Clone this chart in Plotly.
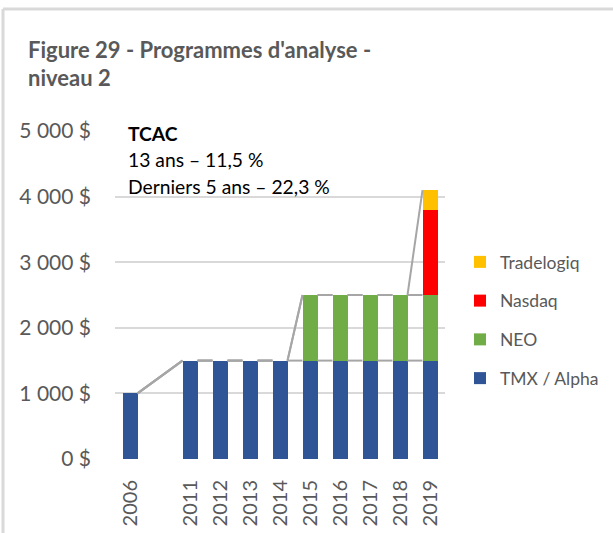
import plotly.graph_objects as go

# ---- data ----
categories = ["2006", " ", "2011", "2012", "2013", "2014", "2015", "2016", "2017", "2018", "2019"]
tmx = [1000, None, 1500, 1500, 1500, 1500, 1500, 1500, 1500, 1500, 1500]
neo = [0, None, 0, 0, 0, 0, 1000, 1000, 1000, 1000, 1000]
nasdaq = [0, None, 0, 0, 0, 0, 0, 0, 0, 0, 1300]
tradelogiq = [0, None, 0, 0, 0, 0, 0, 0, 0, 0, 300]
series_names = ["TMX / Alpha", "NEO", "Nasdaq", "Tradelogiq"]
series_colors = ["#2F5597", "#70AD47", "#FF0000", "#FFC000"]
y_ticks = [0, 1000, 2000, 3000, 4000, 5000]
y_tick_text = ["0 $", "1 000 $", "2 000 $", "3 000 $", "4 000 $", "5 000 $"]
title_lines = ["Figure 29 - Programmes d'analyse -", "niveau 2"]
note_lines = ["<b>TCAC</b>", "13 ans – 11,5 %", "Derniers 5 ans – 22,3 %"]

W, H = 613, 533
L, R, T, B = 115, 445, 131, 459
bar_w = 0.5
FONT = "Lato"
GREY = "#595959"

xs = list(range(len(categories)))
fig = go.Figure()
series = [tmx, neo, nasdaq, tradelogiq]
n = len(series)
for k, (name, col, vals) in enumerate(zip(series_names, series_colors, series)):
    px_ = [x for x, v in zip(xs, vals) if v is not None]
    py_ = [v for v in vals if v is not None]
    fig.add_trace(go.Bar(x=px_, y=py_, name=name, marker=dict(color=col, line=dict(width=0)),
                         width=bar_w, legendgroup=name, legendrank=n - k))

# series lines (cumulative tops) connecting adjacent bars
def cum(upto):
    out = []
    for i in range(len(categories)):
        if tmx[i] is None:
            out.append(None)
            continue
        out.append(sum(s[i] for s in series[:upto + 1]))
    return out

for k in [0, 1, 3]:
    c = cum(k)
    present = [i for i in xs if c[i] is not None]
    lx, ly = [], []
    for a, b in zip(present[:-1], present[1:]):
        lx += [a + bar_w / 2, b - bar_w / 2, None]
        ly += [c[a], c[b], None]
    fig.add_trace(go.Scatter(x=lx, y=ly, mode="lines", line=dict(color="#A6A6A6", width=2),
                             showlegend=False, hoverinfo="skip"))

def px2x(p):
    return (p - L) / (R - L)

def px2y(p):
    return (B - p) / (B - T)

anns = []
anns.append(dict(text="<b>" + title_lines[0] + "</b>", x=px2x(26), y=px2y(50), xref="paper", yref="paper",
                 xanchor="left", yanchor="middle", showarrow=False, font=dict(family=FONT, size=22, color=GREY)))
anns.append(dict(text="<b>" + title_lines[1] + "</b>", x=px2x(26), y=px2y(77), xref="paper", yref="paper",
                 xanchor="left", yanchor="middle", showarrow=False, font=dict(family=FONT, size=22, color=GREY)))
for i, t in enumerate(note_lines):
    anns.append(dict(text=t, x=px2x(126), y=px2y(133 + i * 26.5), xref="paper", yref="paper",
                     xanchor="left", yanchor="middle", showarrow=False, font=dict(family=FONT, size=19.3, color="#000000")))

shapes = [
    dict(type="line", xref="paper", yref="paper", x0=px2x(3), x1=px2x(640), y0=px2y(9), y1=px2y(9),
         line=dict(color="#D9D9D9", width=3)),
    dict(type="line", xref="paper", yref="paper", x0=px2x(3), x1=px2x(3), y0=px2y(9), y1=px2y(560),
         line=dict(color="#D9D9D9", width=3)),
]

fig.update_layout(
    width=W, height=H,
    margin=dict(l=L, r=W - R, t=T, b=H - B, autoexpand=False),
    paper_bgcolor="white", plot_bgcolor="white",
    barmode="stack",
    showlegend=True,
    legend=dict(x=px2x(460), y=px2y(244), xanchor="left", yanchor="top",
                traceorder="grouped", tracegroupgap=13,
                font=dict(family=FONT, size=17.5, color=GREY), itemwidth=30),
    xaxis=dict(range=[-0.5, len(categories) - 0.5], tickmode="array", tickvals=xs, ticktext=categories,
               tickangle=-90, showgrid=False, zeroline=False, showline=False, automargin=False,
               tickfont=dict(family=FONT, size=20, color=GREY), ticks="", ticklabelstandoff=16),
    yaxis=dict(range=[0, 5000], tickmode="array", tickvals=y_ticks, ticktext=y_tick_text,
               showgrid=True, gridcolor="#D9D9D9", gridwidth=1.5, zeroline=False, showline=False,
               automargin=False,
               tickfont=dict(family=FONT, size=21, color=GREY), ticks="", ticklabelstandoff=23),
    annotations=anns,
    shapes=shapes,
    font=dict(family=FONT),
)

fig.write_html("out.html", config={"displayModeBar": False},
               post_script="document.body.style.margin='0px';")
